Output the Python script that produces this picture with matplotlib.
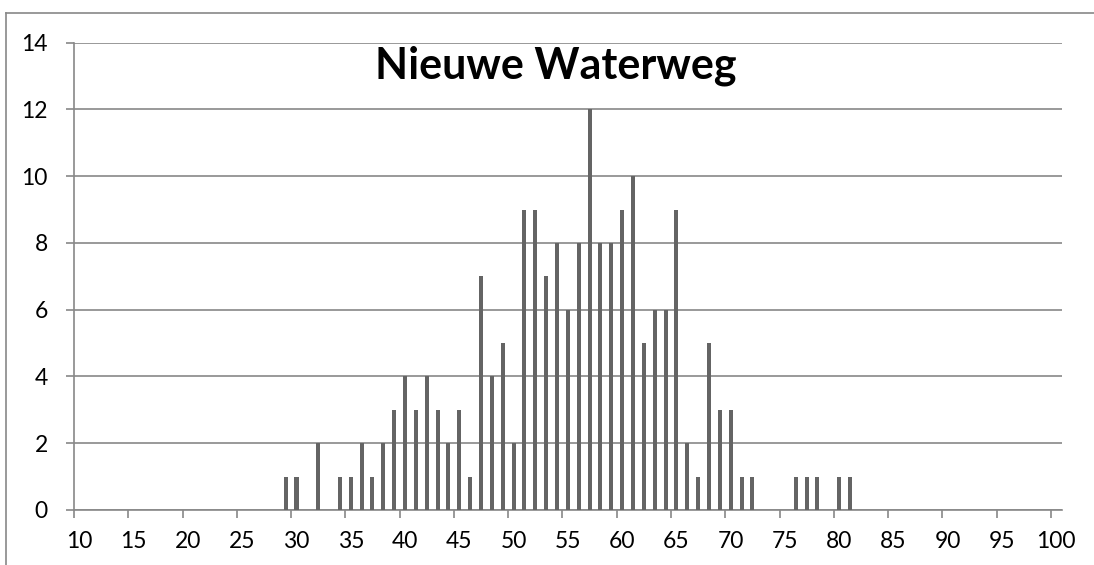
import numpy as np
import matplotlib.pyplot as plt
from matplotlib.lines import Line2D

# values
lengths = [29, 30, 32, 34, 35, 36, 37, 38, 39, 40, 41, 42, 43, 44, 45, 46, 47, 48, 49, 50,
           51, 52, 53, 54, 55, 56, 57, 58, 59, 60, 61, 62, 63, 64, 65, 66, 67, 68, 69, 70,
           71, 72, 76, 77, 78, 80, 81]
counts = [1, 1, 2, 1, 1, 2, 1, 2, 3, 4, 3, 4, 3, 2, 3, 1, 7, 4, 5, 2,
          9, 9, 7, 8, 6, 8, 12, 8, 8, 9, 10, 5, 6, 6, 9, 2, 1, 5, 3, 3,
          1, 1, 1, 1, 1, 1, 1]
x_labels = [10, 15, 20, 25, 30, 35, 40, 45, 50, 55, 60, 65, 70, 75, 80, 85, 90, 95, 100]
y_ticks = [0, 2, 4, 6, 8, 10, 12, 14]
title = 'Nieuwe Waterweg'

plt.rcParams['font.family'] = ['Lato', 'DejaVu Sans']

W, H = 1094, 565
fig = plt.figure(figsize=(W / 100, H / 100), dpi=100)
left, right, top, bottom = 74, 1061.7, 42.7, 510
ax = fig.add_axes([left / W, (H - bottom) / H, (right - left) / W, (bottom - top) / H])

grid_col = '#888888'
bar_col = '#646464'

ax.bar(lengths, counts, width=0.37, color=bar_col, zorder=3)

ax.set_xlim(9.5, 100.5)
ax.set_ylim(0, 14)

# category axis: tick marks on the category boundaries, labels under the centres
ax.set_xticks([v - 0.5 for v in x_labels])
ax.set_xticklabels([])
ax.set_xticks(x_labels, minor=True)
ax.set_xticklabels([str(v) for v in x_labels], minor=True)
ax.tick_params(axis='x', which='major', direction='out', length=5.8, width=1.2, color=grid_col)
ax.tick_params(axis='x', which='minor', length=0, pad=15, labelsize=16.5)

ax.set_yticks(y_ticks)
ax.set_yticklabels([str(v) for v in y_ticks])
ax.tick_params(axis='y', direction='out', length=5.8, width=1.2, color=grid_col, pad=13, labelsize=16.5)

ax.grid(axis='y', color=grid_col, linewidth=1.2, zorder=0)
for s in ['top', 'right']:
    ax.spines[s].set_visible(False)
for s in ['left', 'bottom']:
    ax.spines[s].set_color(grid_col)
    ax.spines[s].set_linewidth(1.2)

fig.text(555.5 / W, (H - 78) / H, title, ha='center', va='baseline',
         fontsize=31, fontweight='bold')

# outer chart border (runs off the right and bottom of the picture)
fig.add_artist(Line2D([5.5 / W, 5.5 / W], [0, (H - 13) / H], color=grid_col, linewidth=1.2))
fig.add_artist(Line2D([5.5 / W, 1], [(H - 13) / H, (H - 13) / H], color=grid_col, linewidth=1.2))

fig.savefig('out.png', dpi=100)
